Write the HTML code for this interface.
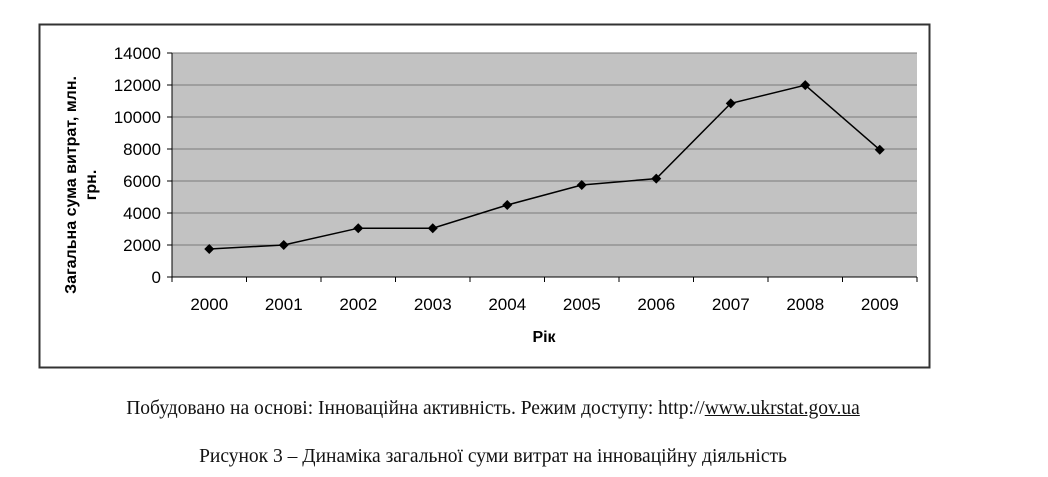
<!DOCTYPE html>
<html><head><meta charset="utf-8"><style>
body{margin:0;background:#fff;width:1048px;height:477px;overflow:hidden;font-family:"Liberation Sans",sans-serif}
.cap{position:absolute;left:0;width:986px;text-align:center;font-family:"Liberation Serif",serif;font-size:19.5px;color:#111}
</style></head><body>
<svg id="chart" width="1048" height="380" style="position:absolute;left:0;top:0">
<rect x="39.5" y="24.5" width="890" height="343" fill="#fff" stroke="#333" stroke-width="2"/>
<rect x="172" y="53" width="745" height="224" fill="#c2c2c2"/>
<g id="grid"></g><g id="axes"></g><g id="series"></g>
<text x="544" y="342" font-size="16" font-weight="bold" text-anchor="middle">Рік</text>
<text transform="translate(76,185) rotate(-90)" font-size="16" font-weight="bold" text-anchor="middle">Загальна сума витрат, млн.</text>
<text transform="translate(96,185) rotate(-90)" font-size="16" font-weight="bold" text-anchor="middle">грн.</text>
</svg>
<div class="cap" style="top:398px">Побудовано на основі: Інноваційна активність. Режим доступу: http://<u>www.ukrstat.gov.ua</u></div>
<div class="cap" style="top:446px">Рисунок 3 – Динаміка загальної суми витрат на інноваційну діяльність</div>
<script>
const years=["2000","2001","2002","2003","2004","2005","2006","2007","2008","2009"];
const values=[1750,2000,3050,3050,4500,5750,6150,10850,11990,7950];
const yTicks=[0,2000,4000,6000,8000,10000,12000,14000];
const NS="http://www.w3.org/2000/svg";
const L=172,R=917,T=53,B=277,YMAX=14000;
const bw=(R-L)/years.length;
const x=i=>L+bw*(i+0.5);
const y=v=>B-(v/YMAX)*(B-T);
function mk(t,a,p){const e=document.createElementNS(NS,t);for(const k in a)e.setAttribute(k,a[k]);p.appendChild(e);return e;}
const grid=document.getElementById('grid'),axes=document.getElementById('axes'),ser=document.getElementById('series');
yTicks.forEach(v=>{
 if(v>0){const g=mk('line',{x1:L,x2:R,y1:y(v),y2:y(v),stroke:'#7a7a7a','stroke-width':1},grid);
 
 }
 const tk=mk('line',{x1:L-5,x2:L,y1:y(v),y2:y(v),stroke:'#000'},axes);
 
 
 const t=mk('text',{x:L-11,y:y(v)+6,'font-size':17,'text-anchor':'end'},axes);t.textContent=v;
 
 
});
mk('line',{x1:L,x2:L,y1:T,y2:B,stroke:'#000'},axes);
mk('line',{x1:L,x2:R,y1:B,y2:B,stroke:'#000'},axes);
for(let i=0;i<=years.length;i++){const tk=mk('line',{x1:L+bw*i,x2:L+bw*i,y1:B,y2:B+5,stroke:'#000'},axes);
 
 }
years.forEach((yr,i)=>{const t=mk('text',{x:x(i),y:B+33,'font-size':17,'text-anchor':'middle'},axes);t.textContent=yr;
 
 });
const pl=mk('polyline',{points:values.map((v,i)=>x(i)+','+y(v)).join(' '),fill:'none',stroke:'#000','stroke-width':1.5},ser);


values.forEach((v,i)=>{const cx=x(i),cy=y(v);
 const m=mk('polygon',{points:`${cx},${cy-5} ${cx+5},${cy} ${cx},${cy+5} ${cx-5},${cy}`,fill:'#000'},ser);
 
 });
</script>
</body></html>
